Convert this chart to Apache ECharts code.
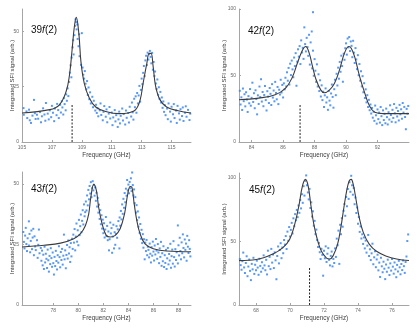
<!DOCTYPE html>
<html lang="en">
  <head>
    <meta charset="UTF-8" />
    <title>SFI spectra</title>
    <style>
      html, body { margin: 0; padding: 0; background: #fff; }
      #chart { width: 420px; height: 328px; }
    </style>
  </head>
  <body>
    <div id="chart"></div>

    <script src="https://cdn.jsdelivr.net/npm/echarts@6/dist/echarts.min.js"></script>
    <script>
      // ---- data: [frequency GHz, signal arb.] ----
      const pts39 = [
        [105.1,15.3],[105.12,12.3],[105.3,13.8],[105.35,10.8],[105.47,14.6],[105.52,9.8],[105.6,8.6],[105.7,11.9],[105.8,19],[105.86,13],[105.91,10.4],[106.0,12.3],
        [106.08,10.5],[106.2,13.5],[106.27,8.9],[106.33,11.6],[106.41,15.2],[106.5,12.4],[106.56,9.6],[106.6,17.6],[106.72,12.8],[106.79,10.2],[106.86,14.3],[106.95,11.2],[107.0,16.3],[107.07,13.2],[107.15,9.4],[107.2,15.1],[107.31,12.1],[107.35,17.2],[107.42,14.4],[107.46,10.8],
        [107.55,16.8],[107.6,13.3],[107.66,18.4],[107.7,15.6],[107.76,12.4],[107.8,19.8],[107.85,17.1],[107.92,14.3],[107.95,21.5],[108.0,18.6],[108.05,24.2],[108.1,20.7],[108.15,27.1],[108.2,31.3],
        [108.25,34.6],[108.3,29.2],[108.32,38.1],[108.38,42.7],[108.42,45.9],[108.45,39.5],[108.5,48.2],[108.55,52.4],[108.58,55.3],[108.62,54.1],[108.65,50.8],[108.7,53.0],[108.72,46.5],[108.78,43.2],[108.82,48.6],[108.85,38.7],
        [108.95,34.8],[109.0,49.1],[109.05,33.6],[109.1,30.4],[109.15,28.6],[109.2,32.0],[109.25,26.3],[109.3,23.8],[109.35,27.5],[109.4,21.2],[109.45,24.6],[109.5,19.3],[109.55,22.4],[109.6,17.4],[109.7,20.4],[109.75,15.7],[109.8,18.6],[109.9,14.2],[109.95,16.8],[110.0,13.1],
        [110.05,15.2],[110.1,11.6],[110.2,14.3],[110.25,17.4],[110.3,12.2],[110.4,9.8],[110.45,13.6],[110.5,16.2],[110.6,11.4],[110.65,14.7],[110.7,8.9],[110.8,12.8],[110.85,15.8],[110.9,10.6],[111.0,13.3],[111.05,7.6],[111.1,11.1],[111.2,14.4],[111.25,9.3],[111.3,12.1],[111.4,6.8],[111.45,10.2],[111.5,13.7],[111.55,8.4],[111.6,11.8],[111.7,15.1],[111.75,9.7],[111.8,12.6],[111.9,7.9],[111.95,14.2],[112.0,10.9],[112.1,13.1],[112.15,8.8],[112.2,15.9],[112.3,11.5],[112.35,17.8],[112.4,13.4],[112.45,10.1],[112.5,19.5],
        [112.55,15.7],[112.6,20.6],[112.65,13.2],[112.7,22.1],[112.75,17.4],[112.8,21.0],[112.85,25.3],[112.9,18.2],[112.95,23.5],[113.0,28.6],[113.05,26.1],[113.1,31.2],[113.15,34.3],[113.2,29.7],[113.25,36.8],
        [113.3,38.9],[113.35,34.7],[113.4,40.3],[113.45,37.2],[113.5,39.6],[113.55,41.1],[113.6,38.4],[113.65,35.5],[113.7,40.2],[113.75,32.6],[113.8,36.1],[113.85,29.8],
        [113.9,31.8],[113.95,26.4],[114.0,23.9],[114.05,28.2],[114.1,21.3],[114.15,24.7],[114.2,19.5],[114.25,22.6],[114.3,17.8],[114.35,20.1],[114.4,15.4],[114.45,18.3],[114.5,13.6],
        [114.55,16.6],[114.6,12.1],[114.7,15.1],[114.75,10.3],[114.8,17.4],[114.9,13.7],[114.95,9.2],[115.0,15.9],[115.1,12.5],[115.15,17.1],[115.2,10.8],[115.3,14.2],[115.35,8.6],[115.4,16.3],[115.5,12.9],[115.55,10.1],[115.6,14.8],[115.7,11.7],[115.75,15.6],[115.8,9.5],[115.9,13.2],[115.95,16.1],[116.0,11.4],[116.1,14.5],[116.2,9.9],[116.25,12.8]
      ];
      const fit39 = [
        [105,13.1],[106.85,14.6],[107.5,16.8],[107.95,22.8],[108.17,30],[108.35,41.6],[108.5,52],[108.63,56.2],[108.8,49],[108.94,36.3],[109.16,26.6],[109.5,19.8],[109.93,15.8],[110.6,13.8],[111.5,12.8],[112.1,13.1],[112.6,14.6],[112.9,19],[113.1,26.6],[113.35,35.6],[113.5,40],[113.63,40],[113.77,34],[113.94,25],[114.23,19],[114.67,15.8],[115.44,14.1],[116.3,13.1]
      ];

      const pts42 = [
        [83.25,38.5],[83.3,28.2],[83.35,33.6],[83.4,24.1],[83.45,40.2],[83.5,30.7],[83.55,35.9],[83.6,26.8],[83.65,37.4],[83.7,31.9],[83.75,22.6],[83.8,34.5],[83.85,29.1],[83.9,39.8],[83.95,27.3],[84.0,33.2],[84.05,44.6],[84.1,30.1],[84.15,36.7],[84.2,25.4],[84.25,38.9],[84.3,32.3],[84.35,20.8],[84.4,35.1],[84.45,28.6],[84.5,41.7],
        [84.55,33.8],[84.6,47.2],[84.65,30.4],[84.7,37.6],[84.75,26.9],[84.8,35.3],[84.85,42.1],[84.9,31.5],[84.95,23.7],[85.0,38.2],[85.05,34.1],[85.1,29.3],[85.15,40.6],[85.2,36.2],[85.25,27.8],[85.3,43.5],[85.35,33.4],[85.4,38.7],[85.45,30.6],[85.5,45.2],[85.55,36.9],[85.6,32.1],[85.65,41.4],[85.7,28.5],[85.75,39.3],[85.8,35.7],[85.85,46.8],[85.9,37.2],[85.95,42.9],[86.0,33.5],
        [86.05,44.1],[86.1,39.6],[86.15,48.3],[86.2,41.8],[86.25,52.4],[86.3,46.1],[86.35,55.7],[86.4,43.2],[86.45,58.9],[86.5,50.3],[86.55,61.2],[86.6,54.6],[86.65,48.7],[86.7,63.5],[86.75,57.1],[86.8,66.8],[86.85,42.3],[86.9,60.4],[86.95,69.7],[87.0,64.2],[87.05,72.1],[87.1,58.6],[87.15,76.4],[87.2,67.3],[87.25,70.8],[87.3,62.5],[87.35,86.2],[87.4,73.6],[87.45,68.1],[87.5,78.3],
        [87.55,71.4],[87.6,64.8],[87.65,80.6],[87.7,58.2],[87.75,74.9],[87.9,97.6],[87.82,83.1],[87.85,55.4],[87.9,68.7],[87.95,49.8],[88.0,62.3],[88.05,53.6],[88.1,45.2],[88.15,58.4],[88.2,41.7],[88.25,50.9],[88.3,38.3],[88.35,46.4],
        [88.4,34.2],[88.45,42.6],[88.5,31.5],[88.55,37.8],[88.6,26.4],[88.65,35.1],[88.7,40.3],[88.75,29.7],[88.8,33.6],[88.85,24.2],[88.9,38.4],[88.95,31.1],[89.0,27.6],[89.05,36.5],[89.1,43.2],[89.15,33.9],[89.2,25.8],[89.25,39.7],
        [89.3,46.8],[89.35,35.2],[89.4,51.3],[89.45,42.5],[89.5,55.9],[89.55,47.6],[89.6,60.2],[89.65,52.8],[89.7,64.9],[89.75,57.1],[89.8,45.3],[89.85,66.4],[89.9,61.8],[89.95,70.5],[90.0,74.2],[90.05,65.7],[90.1,77.8],[90.15,71.2],
        [90.2,78.9],[90.25,68.4],[90.3,75.6],[90.35,72.3],[90.4,63.8],[90.45,76.1],[90.5,67.2],[90.55,59.4],[90.6,70.6],[90.65,62.1],[90.7,54.8],[90.75,65.3],[90.8,50.2],
        [90.85,58.6],[90.9,46.1],[90.95,53.2],[91.0,41.8],[91.05,49.5],[91.1,37.4],[91.15,44.2],[91.2,33.1],[91.25,39.6],[91.3,29.8],[91.35,35.2],[91.4,26.3],[91.45,31.7],[91.5,23.9],[91.55,28.2],[91.6,21.4],
        [91.65,25.6],[91.7,18.3],[91.75,22.7],[91.8,15.9],[91.85,27.4],[91.9,20.1],[91.95,13.8],[92.0,24.5],[92.05,17.2],[92.1,22.1],[92.15,14.6],[92.2,26.3],[92.25,19.4],[92.3,12.7],[92.35,23.8],[92.4,16.5],[92.45,21.2],[92.5,14.1],[92.55,25.1],[92.6,18.7],[92.65,13.2],[92.7,22.4],[92.75,16.9],[92.8,27.6],[92.85,20.3],[92.9,15.2],[92.95,24.2],[93.0,18.1],[93.05,28.5],[93.1,21.6],[93.15,14.8],[93.2,25.7],[93.25,19.2],[93.3,23.3],[93.35,16.2],[93.4,27.9],[93.45,20.8],[93.5,24.6],[93.55,17.5],[93.6,29.3],[93.65,22.1],[93.7,26.4],[93.75,18.8],[93.8,9.6],[93.85,24.9],[93.9,21.3],[93.95,27.1]
      ];
      const fit42 = [
        [83.2,31.75],[84.45,33],[85.5,35.5],[86.16,40.5],[86.6,49],[86.9,59],[87.23,69],[87.44,71.8],[87.66,66.8],[87.87,56.8],[88.1,46.8],[88.4,39],[88.62,37],[88.94,39],[89.26,44],[89.58,54],[89.9,66.8],[90.18,71.8],[90.33,70.5],[90.55,64],[90.87,49],[91.19,36.8],[91.5,26.8],[91.83,22.3],[92.36,21.3],[94,21.3]
      ];

      const pts43 = [
        [75.6,30.2],[75.65,26.1],[75.7,23.4],[75.75,28.7],[75.8,31.9],[75.85,25.2],[75.9,22.3],[75.95,27.6],[76.05,34.6],[76.05,24.6],[76.1,29.4],[76.15,21.8],[76.2,26.5],[76.25,30.8],[76.3,23.1],[76.35,27.9],[76.4,31.5],[76.45,20.6],[76.5,28.4],[76.55,24.2],[76.6,22.7],[76.7,26.8],[76.75,19.5],[76.8,24.9],[76.85,31.2],[76.9,21.4],[77.0,23.6],
        [77.05,18.3],[77.1,22.5],[77.15,16.4],[77.2,20.8],[77.25,14.9],[77.3,24.1],[77.35,17.6],[77.4,21.2],[77.45,19.1],[77.5,15.3],[77.55,22.9],[77.6,18.5],[77.65,13.8],[77.7,20.3],[77.75,16.9],[77.8,23.5],[77.85,19.4],[77.9,15.8],[77.95,21.7],[78.0,17.3],[78.05,12.6],[78.1,19.9],[78.15,16.1],[78.2,22.4],[78.25,18.2],[78.3,14.7],[78.35,20.6],[78.4,17.5],[78.45,24.3],[78.5,19.8],[78.55,15.6],[78.6,21.9],[78.65,18.6],[78.7,23.2],[78.75,16.7],[78.8,20.4],[78.85,29.1],[78.9,18.9],[78.95,22.6],[79.0,15.2],[79.05,20.7],[79.1,24.8],[79.15,19.2],[79.2,26.7],[79.25,21.3],[79.3,23.9],[79.35,17.8],[79.4,25.6],[79.45,20.1],[79.5,27.4],
        [79.55,23.2],[79.6,29.1],[79.65,25.8],[79.7,31.4],[79.75,22.6],[79.8,28.3],[79.85,33.7],[79.9,26.2],[79.95,30.9],[80.0,24.7],[80.05,35.2],[80.1,28.9],[80.15,32.6],[80.2,37.4],[80.25,30.1],[80.3,34.8],[80.35,39.2],[80.4,33.3],[80.45,41.6],[80.5,36.7],[80.55,38.4],
        [80.6,42.8],[80.65,39.1],[80.7,45.3],[80.75,41.2],[80.8,47.6],[80.85,43.7],[80.9,49.2],[80.95,46.1],[81.0,50.8],[81.05,44.6],[81.1,48.3],[81.15,51.2],[81.2,47.4],[81.25,49.7],[81.3,45.2],[81.35,48.6],[81.4,43.1],[81.45,46.4],[81.5,40.7],[81.55,44.3],[81.6,38.2],
        [81.65,41.5],[81.7,35.6],[81.75,39.2],[81.8,33.4],[81.85,37.1],[81.9,31.6],[81.95,35.3],[82.0,29.7],[82.05,33.8],[82.1,27.9],[82.15,31.2],[82.2,36.4],[82.25,28.5],[82.3,32.7],[82.35,26.8],[82.4,30.4],[82.45,22.6],[82.5,27.2],[82.55,34.1],[82.6,29.6],[82.65,31.8],[82.7,21.6],[82.75,28.3],[82.8,33.2],[82.85,23.4],[82.9,30.1],[82.95,24.9],[83.0,29.4],[83.05,32.6],[83.1,27.8],[83.15,31.3],[83.2,34.7],[83.28,23.4],
        [83.3,36.2],[83.35,32.8],[83.4,38.9],[83.45,35.4],[83.5,41.6],[83.55,37.7],[83.6,43.9],[83.65,40.2],[83.7,46.3],[83.75,42.5],[83.8,48.1],[83.85,45.2],[83.9,51.7],[83.95,47.4],[84.0,49.8],[84.05,46.2],[84.1,50.9],[84.15,48.3],[84.2,52.4],[84.25,47.1],[84.3,54.8],[84.35,49.6],[84.4,45.3],[84.45,47.8],[84.5,42.1],
        [84.55,44.6],[84.6,38.2],[84.65,41.3],[84.7,35.1],[84.75,38.7],[84.8,32.4],[84.85,36.2],[84.9,29.8],[84.95,33.5],[85.0,27.4],[85.05,31.1],[85.1,25.6],[85.15,29.3],[85.2,23.7],[85.25,27.2],[85.3,18.9],[85.35,25.8],[85.4,22.3],[85.45,26.9],[85.5,20.6],[85.55,24.1],
        [85.6,22.8],[85.65,19.7],[85.7,25.4],[85.75,21.2],[85.8,17.6],[85.85,23.9],[85.9,20.4],[85.95,26.2],[86.0,22.1],[86.05,18.4],[86.1,24.6],[86.15,20.9],[86.2,27.3],[86.25,22.5],[86.3,19.1],[86.35,25.2],[86.4,21.7],[86.45,17.3],[86.5,23.4],[86.55,19.9],[86.6,26.1],[86.65,16.2],[86.7,21.4],[86.75,18.1],[86.8,24.3],[86.85,15.7],[86.9,20.6],[86.95,17.4],[87.0,22.8],[87.05,14.9],[87.1,19.3],[87.15,23.6],[87.2,16.8],[87.25,21.1],[87.3,18.4],[87.35,25.3],[87.4,15.4],[87.45,20.2],[87.5,22.9],[87.55,17.1],[87.6,26.4],[87.65,19.8],[87.7,15.9],[87.75,23.1],[87.8,18.6],[87.85,21.8],[87.95,32.9],[87.95,17.2],[88.0,24.7],[88.05,20.5],[88.1,27.8],[88.15,22.3],[88.2,18.9],[88.25,25.9],[88.3,21.4],[88.35,29.2],[88.4,23.6],[88.45,19.7],[88.5,27.1],[88.55,22.8],[88.6,25.4],[88.65,18.3],[88.7,28.6],[88.75,24.1],[88.8,21.5],[88.85,26.8],[88.9,23.2],[88.95,20.1]
      ];
      const fit43 = [
        [75.5,24],[77.26,24.7],[78.58,25.6],[79.64,27.4],[80.17,29.5],[80.57,32.9],[80.83,37.7],[81.0,44.6],[81.23,49.9],[81.44,47.4],[81.62,40.5],[81.9,33.6],[82.23,28.8],[82.55,28.1],[82.95,28.8],[83.34,31.5],[83.69,37.7],[83.95,46],[84.14,49],[84.27,48.8],[84.46,41.9],[84.67,35],[84.93,29.5],[85.33,25.3],[85.99,23.3],[87.05,22.3],[89,22]
      ];

      const pts45 = [
        [67.05,36.2],[67.1,31.4],[67.15,27.8],[67.2,34.5],[67.25,41.3],[67.3,29.6],[67.35,25.2],[67.4,33.1],[67.45,38.4],[67.5,22.7],[67.55,30.3],[67.6,35.8],[67.65,26.9],[67.7,19.6],[67.75,32.4],[67.8,28.1],[67.85,37.2],[67.9,24.5],[67.95,31.7],[68.0,27.3],[68.05,34.9],[68.1,29.5],[68.15,23.8],[68.2,36.4],[68.25,30.8],[68.3,26.2],[68.35,33.7],[68.4,28.9],[68.45,39.1],[68.5,31.2],
        [68.55,27.4],[68.6,35.6],[68.65,24.1],[68.7,42.8],[68.75,30.6],[68.8,37.9],[68.85,28.3],[68.9,44.2],[68.95,33.4],[69.0,39.7],[69.05,29.1],[69.1,41.5],[69.15,35.2],[69.2,20.3],[69.25,38.6],[69.3,46.1],[69.35,32.8],[69.4,43.4],[69.45,48.7],[69.5,36.9],[69.55,45.3],
        [69.6,40.8],[69.65,51.2],[69.7,47.6],[69.75,54.3],[69.8,44.1],[69.85,57.8],[69.9,50.6],[69.95,61.4],[70.0,53.9],[70.05,59.2],[70.1,64.7],[70.15,56.4],[70.2,68.3],[70.25,62.1],[70.3,71.6],[70.35,66.8],
        [70.4,74.9],[70.45,69.2],[70.5,78.4],[70.55,72.6],[70.6,82.7],[70.65,76.1],[70.7,87.3],[70.75,80.5],[70.8,93.6],[70.85,86.2],[70.9,97.8],[70.95,102.1],[71.0,94.4],
        [71.05,88.7],[71.1,83.2],[71.15,91.5],[71.2,76.4],[71.25,80.9],[71.3,69.7],[71.35,73.8],[71.4,62.5],[71.45,66.3],[71.5,55.8],[71.55,59.4],
        [71.6,51.2],[71.65,45.7],[71.7,48.9],[71.75,41.6],[71.8,36.2],[71.85,44.3],[71.9,39.5],[71.95,23.1],[72.0,42.7],[72.05,36.8],[72.1,46.2],[72.15,33.9],[72.2,40.4],[72.25,44.8],[72.3,35.6],[72.35,31.2],[72.4,38.7],[72.45,42.1],[72.5,30.4],[72.55,36.3],[72.6,33.1],
        [72.65,44.6],[72.7,37.9],[72.75,52.3],[72.8,47.1],[72.85,58.6],[72.9,32.4],[72.95,63.2],[73.0,55.8],[73.05,68.4],[73.1,61.7],[73.15,74.2],
        [73.2,79.6],[73.25,70.3],[73.3,85.1],[73.35,77.8],[73.4,91.4],[73.45,83.6],[73.5,96.7],[73.55,89.2],[73.6,101.8],[73.65,94.3],[73.7,86.9],[73.75,92.1],[73.8,79.4],[73.85,84.7],
        [73.9,72.5],[73.95,76.8],[74.0,64.1],[74.05,69.3],[74.1,57.6],[74.15,61.9],[74.2,52.4],[74.25,55.7],[74.3,48.1],[74.35,53.2],[74.4,44.6],[74.45,50.7],[74.5,41.3],[74.55,46.8],
        [74.6,55.2],[74.65,38.6],[74.7,43.9],[74.75,35.4],[74.8,40.7],[74.85,48.3],[74.9,32.1],[74.95,37.6],[75.0,42.4],[75.05,29.8],[75.1,35.9],[75.15,39.6],[75.2,27.3],[75.25,33.4],[75.3,22.1],[75.35,37.2],[75.4,30.5],[75.45,25.8],[75.5,34.1],[75.55,28.6],[75.6,20.4],[75.65,31.9],[75.7,26.2],[75.75,35.7],[75.8,29.4],[75.85,23.6],[75.9,32.8],[75.95,27.1],[76.0,36.3],[76.05,30.2],[76.1,24.7],[76.15,33.5],[76.2,28.1],[76.25,21.9],[76.3,31.6],[76.35,26.4],[76.4,34.8],[76.45,29.7],[76.5,24.2],[76.55,32.3],[76.6,27.5],[76.65,35.1],[76.7,30.6],[76.75,25.3],[76.8,33.9],[76.85,38.2],[76.9,50.4],[76.95,55.6]
      ];
      const fit45 = [
        [67,35],[68.02,35.8],[69.0,40.2],[69.6,45.4],[69.99,52],[70.28,63.7],[70.54,79.4],[70.73,93.7],[70.91,99],[71.07,93.7],[71.22,79.4],[71.4,63.7],[71.6,52],[71.85,42.3],[72.15,37],[72.34,36.3],[72.54,38.9],[72.8,48],[72.99,61],[73.17,76.8],[73.33,89.8],[73.48,97.7],[73.6,99],[73.72,95],[73.88,83.3],[74.07,69],[74.31,57.2],[74.66,48],[75.09,42.3],[75.68,38.4],[76.27,36.3],[77,35]
      ];

      // axis ranges and tick labels
      const xRange = [[105, 116.3], [83.2, 94], [75.5, 89], [67, 77]];
      const yRange = [[0, 60], [0, 100], [0, 55], [0, 104]];
      const xTicks = [[105, 107, 109, 111, 113, 115], [84, 86, 88, 90, 92], [78, 80, 82, 84, 86, 88], [68, 70, 72, 74, 76]];
      const yTicks = [[0, 25, 50], [0, 50, 100], [0, 25, 50], [0, 50, 100]];
      // dashed marker: [frequency, height] (none on the 43f panel)
      const markers = [[108.35, 17], [87.08, 28], null, [71.15, 30]];
      const labels = ['39', '42', '43', '45'];

      const points = [pts39, pts42, pts43, pts45];
      const fits = [fit39, fit42, fit43, fit45];

      const grids = [
        { left: 22, top: 9, width: 169, height: 133 },
        { left: 239, top: 9, width: 170, height: 133 },
        { left: 22, top: 172, width: 169, height: 133 },
        { left: 239, top: 173, width: 170, height: 132 },
      ];
      const titlePos = [[31, 25], [248, 26], [31, 184], [249, 185]];
      const yNameGap = [7, 12, 7, 12];

      const axisGray = '#a5a5a5';
      const labelStyle = { fontSize: 5, color: '#6a6a6a', fontFamily: 'Liberation Sans' };
      const titleFont = { fontSize: 10, color: '#111', fontFamily: 'Liberation Sans', fontWeight: 'normal' };

      const xAxes = [], yAxes = [], series = [], titles = [];
      for (let i = 0; i < 4; i++) {
        xAxes.push({
          type: 'value', gridIndex: i, min: xRange[i][0], max: xRange[i][1],
          name: 'Frequency (GHz)', nameLocation: 'middle', nameGap: 10,
          nameTextStyle: { fontSize: 6.3, color: '#3a3a3a', fontFamily: 'Liberation Sans' },
          axisLine: { lineStyle: { color: axisGray, width: 1 } },
          axisTick: { inside: true, length: 2, customValues: xTicks[i], lineStyle: { color: axisGray } },
          axisLabel: Object.assign({ customValues: xTicks[i], margin: 3 }, labelStyle),
          splitLine: { show: false },
        });
        yAxes.push({
          type: 'value', gridIndex: i, min: yRange[i][0], max: yRange[i][1],
          name: 'Integrated SFI signal (arb.)', nameLocation: 'middle', nameGap: yNameGap[i],
          nameMoveOverlap: false,
          nameTextStyle: { fontSize: 6, color: '#3a3a3a', fontFamily: 'Liberation Sans' },
          axisLine: { show: true, lineStyle: { color: axisGray, width: 1 } },
          axisTick: { inside: true, length: 2, customValues: yTicks[i], lineStyle: { color: axisGray } },
          axisLabel: Object.assign({ customValues: yTicks[i], margin: 3 }, labelStyle),
          splitLine: { show: false },
        });
        series.push({
          type: 'scatter', xAxisIndex: i, yAxisIndex: i, data: points[i],
          symbol: 'rect', symbolSize: 2, silent: true,
          itemStyle: { color: '#3b86f2', opacity: 0.85 },
        });
        series.push({
          type: 'line', xAxisIndex: i, yAxisIndex: i, data: fits[i],
          smooth: 0.4, showSymbol: false, silent: true,
          lineStyle: { color: '#3c3c3c', width: 1.1 },
        });
        if (markers[i]) {
          series.push({
            type: 'line', xAxisIndex: i, yAxisIndex: i,
            data: [[markers[i][0], 0], [markers[i][0], markers[i][1]]],
            showSymbol: false, silent: true,
            lineStyle: { color: '#222', width: 1, type: [2, 1.5] },
          });
        }
        titles.push({
          text: '{n|' + labels[i] + '}{i|f}{n|(2)}',
          left: titlePos[i][0], top: titlePos[i][1], padding: 0,
          textStyle: Object.assign({
            rich: {
              n: titleFont,
              i: Object.assign({ fontStyle: 'italic' }, titleFont),
            },
          }, titleFont),
        });
      }

      const chart = echarts.init(document.getElementById('chart'), null, { renderer: 'canvas' });
      chart.setOption({
        animation: false,
        backgroundColor: '#fff',
        title: titles,
        grid: grids,
        xAxis: xAxes,
        yAxis: yAxes,
        series: series,
      });
    </script>
  </body>
</html>
